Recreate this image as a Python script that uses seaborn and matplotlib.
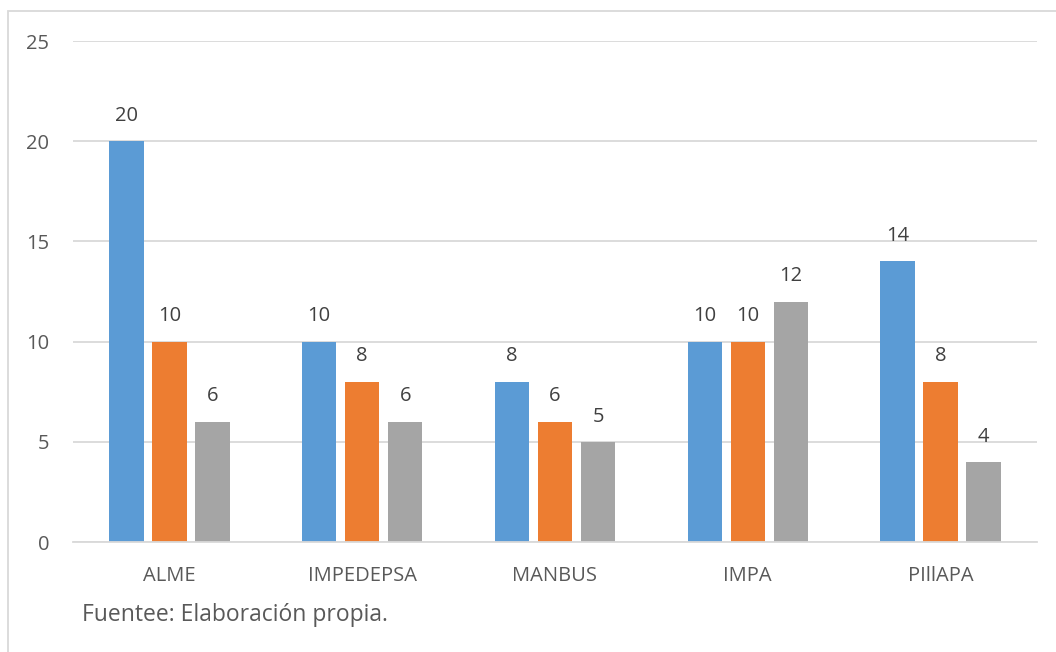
import matplotlib
matplotlib.use("Agg")
import matplotlib.pyplot as plt
import seaborn as sns
import pandas as pd
from matplotlib.patches import Rectangle

categories = ["ALME", "IMPEDEPSA", "MANBUS", "IMPA", "PIllAPA"]
series_names = ["Serie 1", "Serie 2", "Serie 3"]
serie1 = [20, 10, 8, 10, 14]
serie2 = [10, 8, 6, 10, 8]
serie3 = [6, 6, 5, 12, 4]
colors = ["#5B9BD5", "#ED7D31", "#A5A5A5"]
yticks = [0, 5, 10, 15, 20, 25]

df = pd.DataFrame({
    "categoria": categories * 3,
    "serie": [s for s in series_names for _ in categories],
    "valor": serie1 + serie2 + serie3,
})

sns.set_theme(style="white")
plt.rcParams["font.family"] = ["Open Sans", "DejaVu Sans"]

fig = plt.figure(figsize=(10.56, 6.52), dpi=100)
ax = fig.add_axes([0.0691, 0.1687, 0.9129, 0.7684])

sns.barplot(data=df, x="categoria", y="valor", hue="serie", order=categories,
            hue_order=series_names, palette=colors, width=0.67, gap=0.2,
            saturation=1, legend=False, linewidth=0, ax=ax)

for cont in ax.containers:
    ax.bar_label(cont, labels=[f"{v:g}" for v in cont.datavalues], padding=11,
                 fontsize=14.5, color="#404040")

ax.set_ylim(0, 25)
ax.set_xlim(-0.5, 4.5)
ax.set_yticks(yticks)
ax.set_yticklabels([str(t) for t in yticks])
ax.yaxis.grid(True, color="#D9D9D9", linewidth=1.3)
ax.set_axisbelow(True)
for side in ["left", "right", "top"]:
    ax.spines[side].set_visible(False)
ax.spines["bottom"].set_color("#D9D9D9")
ax.spines["bottom"].set_linewidth(1.3)
ax.tick_params(axis="both", length=0, labelsize=14.5, colors="#595959")
ax.tick_params(axis="x", pad=17.5)
ax.tick_params(axis="y", pad=17)
ax.set_xlabel("")
ax.set_ylabel("")

fig.text(0.078, 0.0475, "Fuentee: Elaboración propia.", fontsize=16.5,
         color="#595959", ha="left", va="baseline")

fig.patches.append(Rectangle((0.0076, -0.05), 1.1, 1.033, transform=fig.transFigure,
                             fill=False, edgecolor="#D9D9D9", linewidth=1.3,
                             figure=fig))

fig.savefig("out.png", dpi=100)
